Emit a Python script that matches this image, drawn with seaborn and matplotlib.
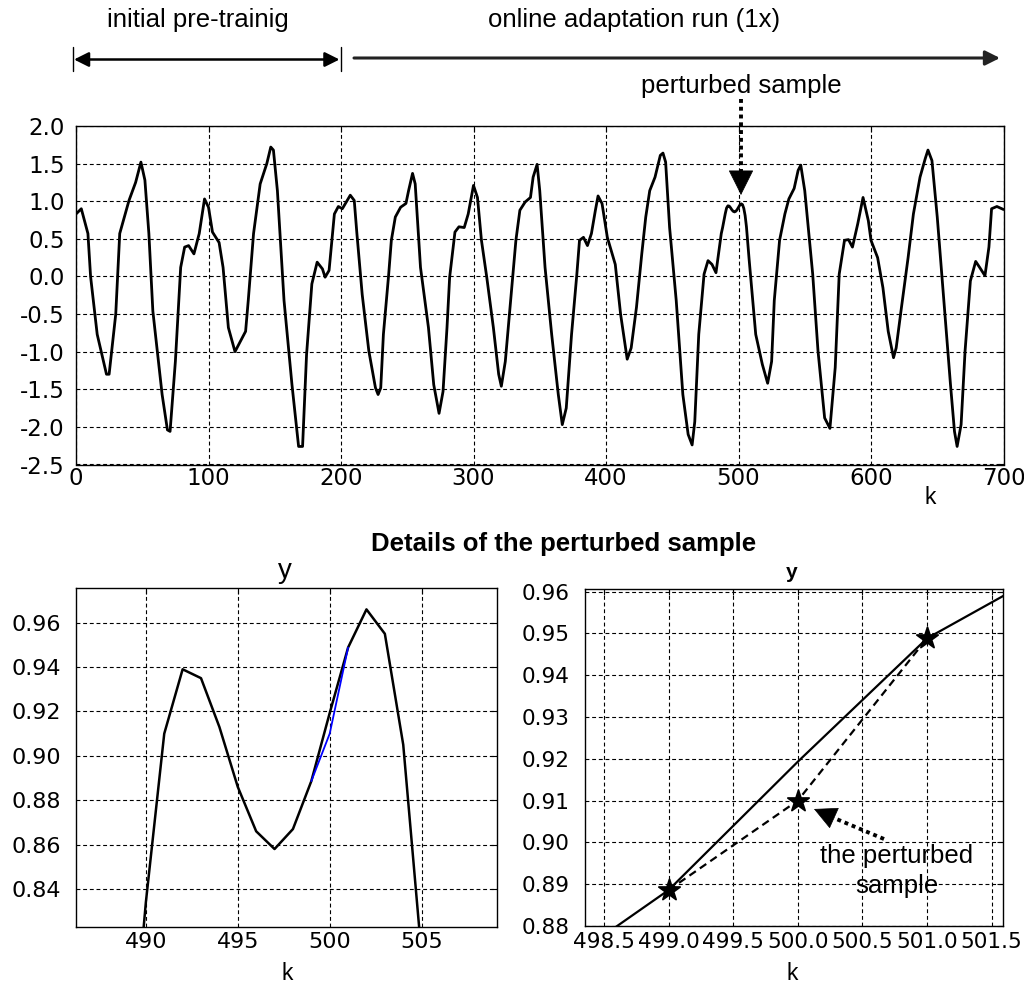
import numpy as np
import pandas as pd
import seaborn as sns
import matplotlib.pyplot as plt
from matplotlib.lines import Line2D
from matplotlib.ticker import FormatStrFormatter

# --- data ------------------------------------------------------------------
# top plot: key samples of y(k) (coarse, read from the long run)
k_run = [0, 4, 9, 11, 16, 23, 25, 30, 33, 40, 45, 49, 52, 55, 58, 65, 69, 71, 75, 79,
         82, 85, 89, 93, 97, 100, 103, 108, 111, 115, 120, 128, 130, 134, 139, 144, 147,
         149, 152, 157, 163, 168, 171, 174, 178, 182, 186, 188, 191, 195, 198, 201, 207,
         210, 212, 216, 221, 226, 228, 230, 232, 236, 238, 241, 245, 249, 251, 254, 256,
         260, 266, 270, 274, 277, 280, 282, 286, 289, 293, 296, 300, 303, 306, 310, 315,
         319, 321, 324, 328, 332, 335, 339, 343, 345, 348, 350, 354, 359, 364, 367, 370,
         374, 378, 380, 383, 386, 389, 392, 394, 397, 401, 407, 411, 416, 419, 423, 427,
         430, 433, 437, 441, 443, 445, 448, 453, 458, 462, 465, 467, 470, 474, 477, 480,
         483, 487]
y_run = [0.83, 0.90, 0.57, 0.00, -0.77, -1.30, -1.30, -0.50, 0.57, 1.01, 1.25, 1.52, 1.28,
         0.57, -0.46, -1.57, -2.04, -2.06, -1.13, 0.12, 0.39, 0.41, 0.30, 0.57, 1.03, 0.92,
         0.59, 0.45, 0.12, -0.68, -1.00, -0.73, -0.32, 0.57, 1.23, 1.50, 1.72, 1.68, 1.14,
         -0.32, -1.44, -2.26, -2.26, -1.04, -0.10, 0.19, 0.10, -0.01, 0.08, 0.83, 0.93, 0.90,
         1.08, 1.01, 0.57, -0.24, -0.99, -1.48, -1.57, -1.48, -0.77, 0.03, 0.48, 0.79, 0.92,
         0.97, 1.14, 1.37, 1.23, 0.12, -0.68, -1.44, -1.82, -1.53, -0.68, -0.01, 0.59, 0.66,
         0.65, 0.83, 1.21, 1.05, 0.48, -0.01, -0.68, -1.30, -1.46, -1.13, -0.32, 0.48, 0.88,
         0.99, 1.05, 1.32, 1.49, 1.14, 0.12, -0.77, -1.57, -1.97, -1.75, -0.77, 0.03, 0.48,
         0.52, 0.41, 0.57, 0.88, 1.07, 0.97, 0.52, 0.16, -0.50, -1.10, -0.95, -0.41, 0.30,
         0.79, 1.14, 1.32, 1.61, 1.64, 1.52, 0.65, -0.32, -1.57, -2.10, -2.24, -1.93, -0.77,
         0.03, 0.21, 0.16, 0.05, 0.57]

# samples around the perturbed one
k_detail = [488, 489, 490, 491, 492, 493, 494, 495, 496, 497, 498, 499, 500, 501, 502,
            503, 504, 505, 506, 507, 508]
y_detail = [0.65, 0.74, 0.834, 0.910, 0.939, 0.935, 0.913, 0.886, 0.866, 0.858, 0.867,
            0.8886, 0.9193, 0.9488, 0.966, 0.955, 0.905, 0.81, 0.66, 0.45, 0.23]

k_rest = [513, 518, 522, 525, 527, 531, 535, 538, 542, 545, 547, 550, 556, 560, 565, 569,
          573, 576, 580, 583, 586, 590, 594, 598, 600, 605, 609, 613, 617, 619, 623, 628,
          632, 637, 641, 643, 646, 650, 655, 660, 663, 665, 668, 671, 675, 679, 682, 686,
          689, 691, 695, 700]
y_rest = [-0.77, -1.17, -1.42, -1.13, -0.32, 0.48, 0.83, 1.03, 1.17, 1.41, 1.48, 1.14,
          0.03, -0.99, -1.88, -2.02, -1.21, 0.03, 0.48, 0.49, 0.39, 0.70, 1.05, 0.74, 0.48,
          0.25, -0.15, -0.73, -1.08, -0.95, -0.41, 0.25, 0.83, 1.32, 1.57, 1.68, 1.54, 0.79,
          -0.32, -1.44, -2.06, -2.26, -1.97, -0.99, -0.06, 0.20, 0.12, 0.01, 0.39, 0.90,
          0.93, 0.89]

# perturbed version of the three samples
k_pert = [499, 500, 501]
y_pert = [0.8886, 0.9100, 0.9488]

df = pd.DataFrame({'k': k_run + k_detail + k_rest, 'y': y_run + y_detail + y_rest})
dp = pd.DataFrame({'k': k_pert, 'y': y_pert})

# --- figure ----------------------------------------------------------------
sns.set_theme(style='white')
plt.rcParams['font.family'] = ['DejaVu Sans']
for key in ('text.color', 'axes.labelcolor', 'xtick.color', 'ytick.color'):
    plt.rcParams[key] = 'black'
TXT = ['Liberation Sans', 'DejaVu Sans']
W, H = 1024, 991
fig = plt.figure(figsize=(W / 100, H / 100), dpi=100)


def box(l, t, r, b):
    # pixel box (top-left origin) -> figure fractions
    return [l / W, 1 - b / H, (r - l) / W, (b - t) / H]


def px(x, y):
    return (x, H - y)


def label(x, y, s, **kw):
    fig.text(x / W, 1 - y / H, s, family=TXT, ha='center', va='center', color='black', **kw)


def style(ax, size):
    for s in ax.spines.values():
        s.set_color('black')
        s.set_linewidth(1.0)
    ax.grid(True, color='black', linestyle=(0, (3.5, 2.5)), linewidth=0.8)
    ax.tick_params(direction='in', length=4.5, width=0.8, colors='black',
                   labelsize=size, top=True, right=True)
    ax.set_xlabel('')
    ax.set_ylabel('')


def dotted_arrow(ax, tip, tail, neck, ms):
    # dotted shaft plus a solid filled head
    fig.add_artist(Line2D([tail[0] / W, neck[0] / W], [1 - tail[1] / H, 1 - neck[1] / H],
                          color='black', lw=2.8, linestyle=(0, (1.0, 1.0)),
                          dash_capstyle='butt'))
    ax.annotate('', xy=px(*tip), xytext=px(*neck), xycoords='figure pixels',
                textcoords='figure pixels',
                arrowprops=dict(arrowstyle='-|>', color='black', lw=0.5,
                                mutation_scale=ms, shrinkA=0, shrinkB=0))


ax1 = fig.add_axes(box(76, 126, 1003.5, 464.5))
ax2 = fig.add_axes(box(76, 588.3, 497, 926.7))
ax3 = fig.add_axes(box(585, 589, 1003.3, 926))

# top: whole run
sns.lineplot(data=df, x='k', y='y', ax=ax1, color='black', lw=2.0, estimator=None, sort=False)
ax1.set_xlim(0, 700)
ax1.set_ylim(-2.5, 2.0)
ax1.set_xticks(np.arange(0, 701, 100))
ax1.set_yticks(np.arange(-2.5, 2.01, 0.5))
ax1.yaxis.set_major_formatter(FormatStrFormatter('%.1f'))
style(ax1, 16.5)
ax1.tick_params(axis='x', pad=2)
ax1.tick_params(axis='y', pad=8)

# bottom left: zoom around the perturbed sample
sns.lineplot(data=df, x='k', y='y', ax=ax2, color='black', lw=1.8, estimator=None, sort=False)
sns.lineplot(data=dp, x='k', y='y', ax=ax2, color='blue', lw=1.3, estimator=None, sort=False)
ax2.set_xlim(486.2, 509.1)
ax2.set_ylim(0.823, 0.9755)
ax2.set_xticks([490, 495, 500, 505])
ax2.set_yticks(np.arange(0.84, 0.961, 0.02))
ax2.yaxis.set_major_formatter(FormatStrFormatter('%.2f'))
style(ax2, 16)
ax2.tick_params(axis='x', pad=4)
ax2.tick_params(axis='y', pad=11)

# bottom right: the three samples
sns.lineplot(data=df, x='k', y='y', ax=ax3, color='black', lw=1.6, estimator=None, sort=False)
sns.lineplot(data=dp, x='k', y='y', ax=ax3, color='black', lw=1.6, estimator=None,
             sort=False, linestyle=(0, (3.5, 2.2)))
sns.scatterplot(data=dp, x='k', y='y', ax=ax3, color='black', marker='*', s=260,
                edgecolor='black', zorder=5)
ax3.set_xlim(498.353, 501.59)
ax3.set_ylim(0.88, 0.9606)
ax3.set_xticks(np.arange(498.5, 501.51, 0.5))
ax3.set_yticks(np.arange(0.88, 0.9601, 0.01))
ax3.xaxis.set_major_formatter(FormatStrFormatter('%.1f'))
ax3.yaxis.set_major_formatter(FormatStrFormatter('%.2f'))
style(ax3, 15.6)
ax3.tick_params(axis='x', pad=4)
ax3.tick_params(axis='y', pad=11)

# --- texts and arrows -------------------------------------------------------
label(198, 20.5, 'initial pre-trainig', fontsize=18.5)
label(634, 20.5, 'online adaptation run (1x)', fontsize=18.5)
label(741, 86.5, 'perturbed sample', fontsize=18.5)

label(930, 497, 'k', fontsize=16.5)
label(287, 973, 'k', fontsize=16.5)
label(792, 973, 'k', fontsize=16.5)
label(285, 571, 'y', fontsize=20)
label(792, 573, 'y', fontsize=15, fontweight='bold')
label(563.5, 544, 'Details of the perturbed sample', fontsize=18.5, fontweight='bold')

# span arrows above the top plot
fig.add_artist(Line2D([73 / W] * 2, [1 - 47 / H, 1 - 71 / H], color='black', lw=1.0))
fig.add_artist(Line2D([340.5 / W] * 2, [1 - 47 / H, 1 - 71 / H], color='black', lw=1.0))
ax1.annotate('', xy=px(74, 59.5), xytext=px(339.5, 59.5), xycoords='figure pixels',
             textcoords='figure pixels',
             arrowprops=dict(arrowstyle='<|-|>', color='black', lw=1.8,
                             mutation_scale=22, shrinkA=0, shrinkB=0))
ax1.annotate('', xy=px(1000, 58), xytext=px(354, 58), xycoords='figure pixels',
             textcoords='figure pixels',
             arrowprops=dict(arrowstyle='-|>', color='#222222', lw=2.2,
                             mutation_scale=22, shrinkA=0, shrinkB=0))

# dotted arrows pointing at the perturbed sample
dotted_arrow(ax1, tip=(741, 195), tail=(741, 99), neck=(741, 172), ms=42)
dotted_arrow(ax3, tip=(814, 809), tail=(884, 839), neck=(834, 818), ms=38)
label(897, 871, 'the perturbed\nsample', fontsize=18.5, linespacing=1.35)

fig.savefig('out.png', dpi=100)
